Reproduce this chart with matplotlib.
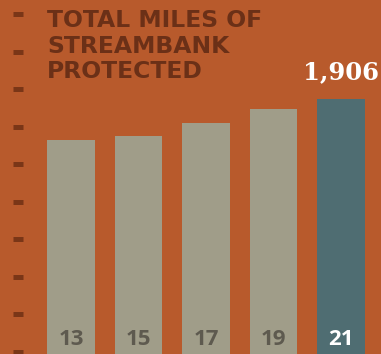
import numpy as np
import matplotlib
matplotlib.use('Agg')
import matplotlib.pyplot as plt

years = ['13', '15', '17', '19', '21']
miles = [1600, 1629, 1727, 1831, 1906]
title_lines = ['TOTAL MILES OF', 'STREAMBANK', 'PROTECTED']

bg = '#B85A2C'
bar_grey = '#A09D89'
bar_teal = '#4F6D72'
brown = '#6B3017'

fig = plt.figure(figsize=(3.81, 3.54), dpi=100)
fig.patch.set_facecolor(bg)
ax = fig.add_axes([0, 0, 1, 1])
ax.set_facecolor(bg)

ind = np.arange(len(years))
colors = [bar_grey] * (len(years) - 1) + [bar_teal]
ax.bar(ind, miles, 0.71, color=colors)

ax.set_xlim(-1.052, 4.593)
ax.set_ylim(0, 2646)

# decorative tick marks down the left edge
for s in ['top', 'right', 'bottom']:
    ax.spines[s].set_visible(False)
ax.spines['left'].set_position(('axes', 13 / 381))
ax.spines['left'].set_visible(False)
ax.set_xticks([])
ax.set_yticks(np.arange(15, 2646, 280.3))
ax.set_yticklabels([])
ax.tick_params(axis='y', direction='in', length=7.2, width=3.6, color='#7A3617')

for i, (y, v) in enumerate(zip(years, miles)):
    c = 'white' if i == len(years) - 1 else '#5E5A4F'
    ax.text(i, 67, y, ha='center', va='baseline', fontsize=16,
            fontweight='bold', color=c, family='Open Sans')

ax.text(len(years) - 1, miles[-1] + 150, '{:,}'.format(miles[-1]),
        ha='center', va='baseline', fontsize=17.5, fontweight='bold',
        color='white', family='DejaVu Serif')

for k, line in enumerate(title_lines):
    fig.text(47 / 381, 1 - (27 + 25.7 * k) / 354, line,
             ha='left', va='baseline', fontsize=16.9, fontweight='bold',
             color=brown, family='DejaVu Sans')

fig.savefig('out.png', dpi=100, facecolor=bg)
